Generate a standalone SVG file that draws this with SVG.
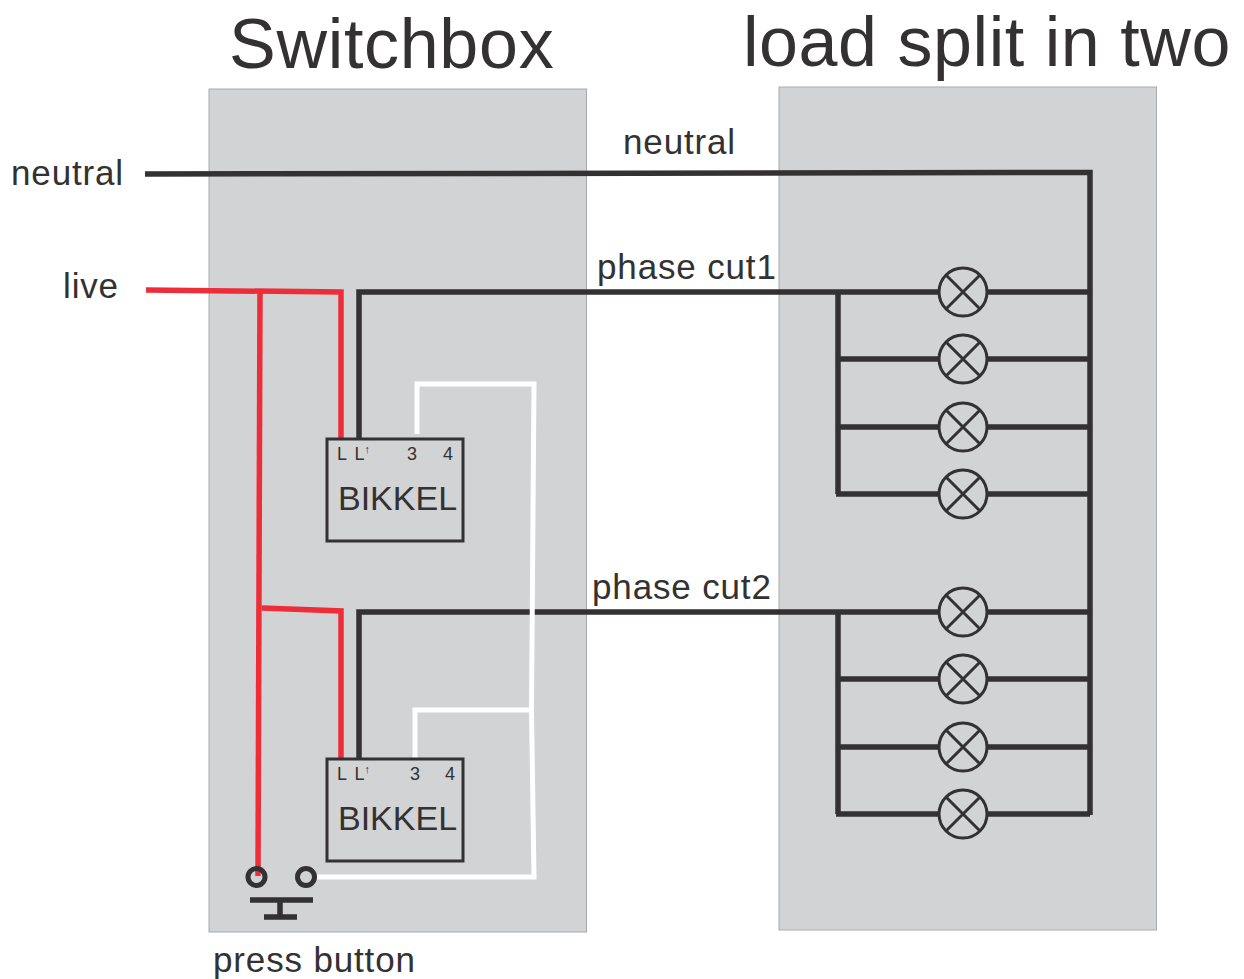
<svg xmlns="http://www.w3.org/2000/svg" width="1244" height="979" viewBox="0 0 1244 979">
<style>
text{font-family:"Liberation Sans",Arial,sans-serif;fill:#333132}
.panel{fill:#d1d3d4;stroke:#a7a9ac;stroke-width:1}
.k{fill:none;stroke:#333132;stroke-width:5.500}
.r{fill:none;stroke:#ed2e38;stroke-width:5.500}
.w{fill:none;stroke:#fff;stroke-width:5}
.lampc{fill:#d1d3d4;stroke:#333132;stroke-width:3}
.lampx{fill:none;stroke:#333132;stroke-width:3}
.box{fill:none;stroke:#333132;stroke-width:3}
.t-s{font-size:70px;letter-spacing:.7px}
.t-l{font-size:70px;letter-spacing:.55px}
.t-lab{font-size:35px;letter-spacing:.85px}
.t-bik{font-size:34px}
.t-pin{font-size:18px}
.t-arr{font-size:11px}
</style>
<defs>
<g id="lampSym"><circle class="lampc" r="24"/><path class="lampx" d="M-17-17L17 17M-17 17L17-17"/></g>
</defs>
<g id="panels">
<rect id="switchbox" class="panel" x="209" y="89" width="377.500" height="843"/>
<rect id="loadbox" class="panel" x="779" y="87" width="377.500" height="843"/>
</g>
<g id="titles">
<text class="t-s" x="229" y="68">Switchbox</text>
<text class="t-l" x="743" y="66">load split in two</text>
</g>
<g id="connectors">
<path class="k" d="M145 174L1090 172.500V815"/>
<path class="k" d="M359 438V292H963M359 758V612H963"/>
<path class="k" d="M838 292V494M838 612V814"/>
<path class="k" d="M836 359H963M836 427H963M836 494H963M836 679H963M836 747H963M836 814H963"/>
<path class="k" d="M963 292H1090M963 359H1090M963 427H1090M963 494H1090M963 612H1090M963 679H1090M963 747H1090M963 814H1090"/>
<path class="r" d="M146 290L341 292V438"/>
<path class="r" d="M260 290L258 876"/>
<path class="r" d="M262 608L341 611V758"/>
<path class="w" d="M417 434V384H534L531.500 708"/>
<path class="w" d="M415 758V710H531.500L534 877H317"/>
</g>
<g id="bikkel1">
<rect class="box" x="327" y="439" width="136" height="102"/>
<text class="t-pin" x="337" y="460">L</text>
<text class="t-pin" x="354.500" y="460">L</text>
<text class="t-arr" x="364.500" y="453">↑</text>
<text class="t-pin" x="407" y="460">3</text>
<text class="t-pin" x="443" y="460">4</text>
<text class="t-bik" x="338" y="510">BIKKEL</text>
</g>
<g id="bikkel2">
<rect class="box" x="327" y="759" width="136" height="102"/>
<text class="t-pin" x="337" y="780">L</text>
<text class="t-pin" x="354.500" y="780">L</text>
<text class="t-arr" x="364.500" y="773">↑</text>
<text class="t-pin" x="410" y="780">3</text>
<text class="t-pin" x="445" y="780">4</text>
<text class="t-bik" x="338" y="830">BIKKEL</text>
</g>
<g id="lamps">
<use href="#lampSym" x="963" y="292"/>
<use href="#lampSym" x="963" y="359"/>
<use href="#lampSym" x="963" y="427"/>
<use href="#lampSym" x="963" y="494"/>
<use href="#lampSym" x="963" y="612"/>
<use href="#lampSym" x="963" y="679"/>
<use href="#lampSym" x="963" y="747"/>
<use href="#lampSym" x="963" y="814"/>
</g>
<g id="pressbutton">
<circle cx="256.500" cy="877" r="8.500" fill="none" stroke="#333132" stroke-width="5"/>
<circle cx="306" cy="877" r="8.500" fill="none" stroke="#333132" stroke-width="5"/>
<path class="k" d="M250 900H313M264 917H297"/>
<path class="k" d="M280 900V917"/>
</g>
<g id="labels">
<text class="t-lab" x="11" y="185">neutral</text>
<text class="t-lab" x="63" y="298">live</text>
<text class="t-lab" x="623" y="154">neutral</text>
<text class="t-lab" x="597" y="279">phase cut1</text>
<text class="t-lab" x="592" y="599">phase cut2</text>
<text class="t-lab" x="213" y="972">press button</text>
</g>
</svg>
